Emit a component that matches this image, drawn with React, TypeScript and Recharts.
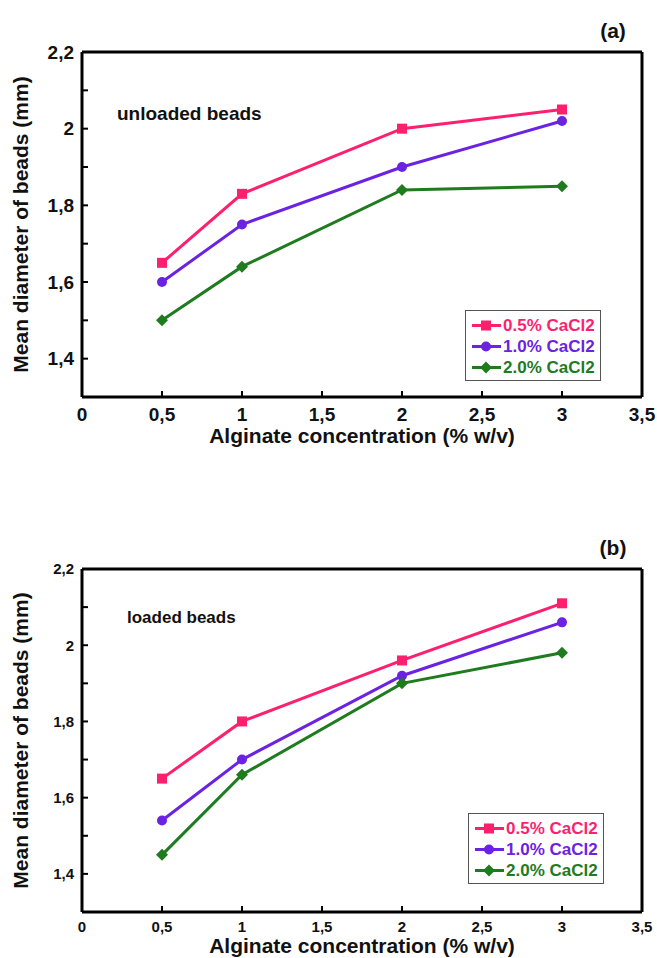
import React from 'react';
import { LineChart, Line, XAxis, YAxis, Legend } from 'recharts';

// alginate concentration (% w/v)
const alginate = [0.5, 1, 2, 3];

// unloaded beads, mean diameter (mm)
const unloaded05 = [1.65, 1.83, 2.0, 2.05];
const unloaded10 = [1.6, 1.75, 1.9, 2.02];
const unloaded20 = [1.5, 1.64, 1.84, 1.85];

// loaded beads, mean diameter (mm)
const loaded05 = [1.65, 1.8, 1.96, 2.11];
const loaded10 = [1.54, 1.7, 1.92, 2.06];
const loaded20 = [1.45, 1.66, 1.9, 1.98];

const seriesNames = ['0.5% CaCl2', '1.0% CaCl2', '2.0% CaCl2'];
const xTicks = [0, 0.5, 1, 1.5, 2, 2.5, 3, 3.5];
const yTicks = [1.3, 1.4, 1.5, 1.6, 1.7, 1.8, 1.9, 2.0, 2.1, 2.2];
const yLabelled = [1.4, 1.6, 1.8, 2.0, 2.2];

const COLORS = ['#ff1f6f', '#6b22e3', '#1e7b1e'];
const SHAPES = ['square', 'circle', 'diamond'];
const FONT = "'Liberation Sans', Arial, sans-serif";

const comma = (v: number) => String(v).replace('.', ',');
const yFmt = (v: number) => (yLabelled.some((l) => Math.abs(l - v) < 1e-6) ? comma(v) : '');

const makeRows = (a: number[], b: number[], c: number[]) =>
  alginate.map((x, i) => ({ x, s0: a[i], s1: b[i], s2: c[i] }));

function Marker({ kind, cx, cy, color }: any) {
  if (kind === 'square') return <rect x={cx - 5} y={cy - 5} width={10} height={10} fill={color} />;
  if (kind === 'circle') return <circle cx={cx} cy={cy} r={5} fill={color} />;
  return <polygon points={`${cx},${cy - 6} ${cx + 6},${cy} ${cx},${cy + 6} ${cx - 6},${cy}`} fill={color} />;
}

const renderLegend = (props: any) => {
  const items = props.payload && props.payload.length ? props.payload : seriesNames.map((n, i) => ({ value: n, color: COLORS[i] }));
  return (
    <div style={{ border: '1px solid #555', background: '#fff', padding: '4px 5px', boxSizing: 'border-box', width: 136, height: 71, fontFamily: FONT }}>
      {items.map((it: any, i: number) => (
        <div key={i} style={{ display: 'flex', alignItems: 'center', height: 21 }}>
          <svg width={32} height={21}>
            <line x1={1} x2={30} y1={10.5} y2={10.5} stroke={COLORS[i]} strokeWidth={3} />
            <Marker kind={SHAPES[i]} cx={15} cy={10.5} color={COLORS[i]} />
          </svg>
          <span style={{ color: COLORS[i], fontWeight: 700, fontSize: 17, lineHeight: '21px' }}>{it.value}</span>
        </div>
      ))}
    </div>
  );
};

const frameLine = { stroke: '#000', strokeWidth: 3 };
const tickMark = { stroke: '#000', strokeWidth: 2 };

function Panel({ top, height, rows, tag, note, noteTop, noteLeft, noteSize, tickSize, xTickMargin, xTitleOffset, legendLeft, legendTop }: any) {
  const tickStyle = { fontSize: tickSize, fontWeight: 700, fill: '#111', fontFamily: FONT };
  const titleStyle = { fontSize: 21, fontWeight: 700, fill: '#111', fontFamily: FONT, textAnchor: 'middle' as const };
  return (
    <div style={{ position: 'absolute', left: 0, top, width: 657, height }}>
      <LineChart width={657} height={height} data={rows} margin={{ top: 51, right: 14, left: 0, bottom: 0 }}>
        <XAxis
          xAxisId="b"
          dataKey="x"
          type="number"
          domain={[0, 3.5]}
          ticks={xTicks}
          interval={0}
          tickFormatter={comma}
          height={55}
          tickSize={-6}
          tickMargin={xTickMargin}
          axisLine={frameLine}
          tickLine={tickMark}
          tick={tickStyle}
          label={{ value: 'Alginate concentration (% w/v)', position: 'insideBottom', offset: xTitleOffset, style: titleStyle }}
        />
        <XAxis
          xAxisId="t"
          orientation="top"
          dataKey="x"
          type="number"
          domain={[0, 3.5]}
          ticks={xTicks}
          interval={0}
          height={1}
          tickSize={-6}
          tick={false}
          axisLine={frameLine}
          tickLine={tickMark}
        />
        <YAxis
          yAxisId="l"
          type="number"
          domain={[1.3, 2.2]}
          ticks={yTicks}
          interval={0}
          tickFormatter={yFmt}
          width={82}
          tickSize={-6}
          tickMargin={14}
          axisLine={frameLine}
          tickLine={tickMark}
          tick={tickStyle}
          label={{ value: 'Mean diameter of beads (mm)', angle: -90, position: 'insideLeft', offset: 21, style: titleStyle }}
        />
        <YAxis
          yAxisId="r"
          orientation="right"
          type="number"
          domain={[1.3, 2.2]}
          ticks={yTicks}
          interval={0}
          width={1}
          tickSize={-6}
          tick={false}
          axisLine={frameLine}
          tickLine={tickMark}
        />
        <Legend
          layout="vertical"
          align="center"
          verticalAlign="middle"
          wrapperStyle={{ left: legendLeft, top: legendTop, width: 136, height: 71 }}
          content={renderLegend}
        />
        {seriesNames.map((name, i) => (
          <Line
            key={name}
            xAxisId="b"
            yAxisId="l"
            type="linear"
            dataKey={`s${i}`}
            name={name}
            stroke={COLORS[i]}
            strokeWidth={3}
            dot={(p: any) => <Marker key={`${name}-${p.index}`} kind={SHAPES[i]} cx={p.cx} cy={p.cy} color={COLORS[i]} />}
            activeDot={false}
            isAnimationActive={false}
          />
        ))}
      </LineChart>
      <div style={{ position: 'absolute', left: 613, top: 31, transform: 'translate(-50%, -50%)', fontFamily: FONT, fontWeight: 700, fontSize: 21, color: '#111' }}>
        {tag}
      </div>
      <div style={{ position: 'absolute', left: noteLeft, top: noteTop, transform: 'translateY(-50%)', fontFamily: FONT, fontWeight: 700, fontSize: noteSize, color: '#111', whiteSpace: 'nowrap' }}>
        {note}
      </div>
    </div>
  );
}

export default function App() {
  return (
    <div style={{ position: 'absolute', left: 0, top: 0, width: 657, height: 958, background: '#fff', overflow: 'hidden' }}>
      <Panel
        top={0}
        height={452}
        rows={makeRows(unloaded05, unloaded10, unloaded20)}
        tag="(a)"
        note="unloaded beads"
        noteTop={114}
        noteLeft={117}
        noteSize={19}
        tickSize={19}
        xTickMargin={17}
        xTitleOffset={9}
        legendLeft={465}
        legendTop={310}
      />
      <Panel
        top={517}
        height={450}
        rows={makeRows(loaded05, loaded10, loaded20)}
        tag="(b)"
        note="loaded beads"
        noteTop={101}
        noteLeft={127}
        noteSize={17}
        tickSize={15}
        xTickMargin={15}
        xTitleOffset={14}
        legendLeft={468}
        legendTop={296}
      />
    </div>
  );
}
